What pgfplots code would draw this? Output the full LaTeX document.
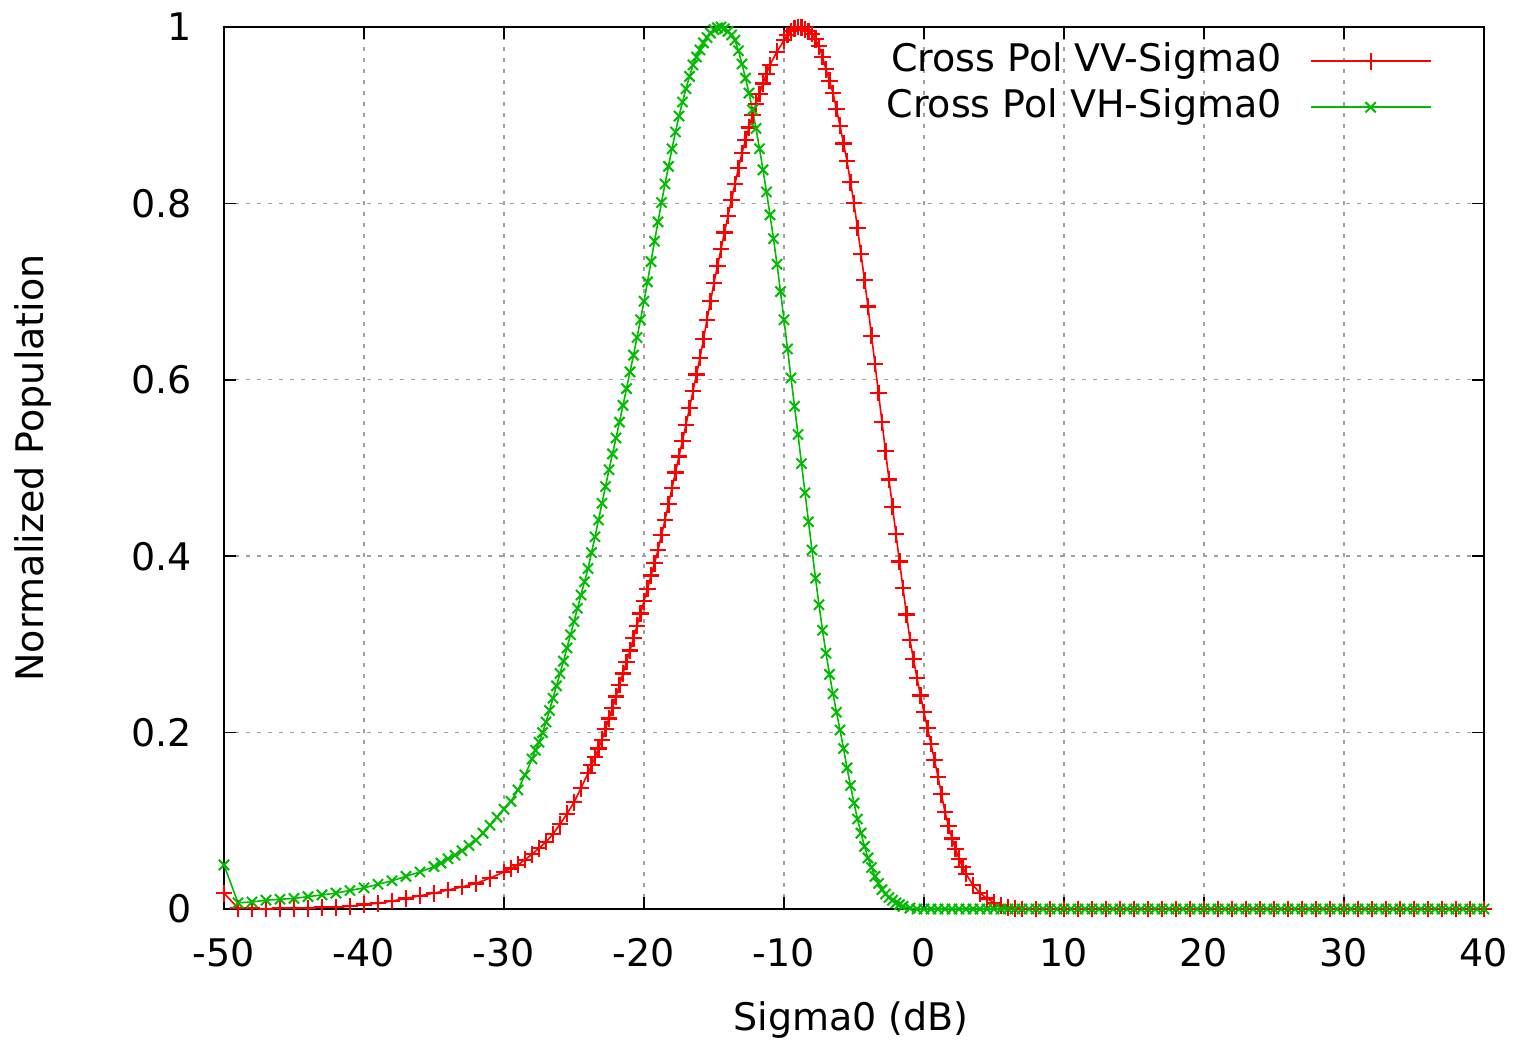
\documentclass[border=0pt]{standalone}
\usepackage{fontspec}
\setmainfont{DejaVu Sans}
\usepackage{pgfplots}
\usepackage{pgfplotstable}
\pgfplotsset{compat=1.18}
\definecolor{vvred}{HTML}{FF0000}
\definecolor{vhgreen}{HTML}{00BB00}
\definecolor{gridgray}{HTML}{A0A0A0}

% Cross Pol VV-Sigma0
\pgfplotstableread{
x y
-50 0.018
-49 0.001
-48 0.001
-47 0.000
-46 0.001
-45 0.001
-44 0.001
-43 0.002
-42 0.002
-41 0.003
-40 0.005
-39 0.0065
-38 0.009
-37 0.012
-36 0.015
-35 0.018
-34 0.0215
-33 0.025
-32 0.029
-31 0.035
-30 0.042
-29.5 0.046
-29 0.050
-28.5 0.056
-28 0.062
-27.5 0.069
-27 0.076
-26.5 0.085
-26 0.096
-25.5 0.108
-25 0.121
-24.5 0.137
-24 0.154
-23.75 0.163
-23.5 0.172
-23.25 0.182
-23 0.192
-22.75 0.204
-22.5 0.216
-22.25 0.228
-22 0.241
-21.75 0.254
-21.5 0.267
-21.25 0.280
-21 0.293
-20.75 0.307
-20.5 0.321
-20.25 0.335
-20 0.349
-19.75 0.363
-19.5 0.378
-19.25 0.392
-19 0.407
-18.75 0.424
-18.5 0.441
-18.25 0.459
-18 0.477
-17.75 0.495
-17.5 0.513
-17.25 0.531
-17 0.549
-16.75 0.568
-16.5 0.587
-16.25 0.606
-16 0.625
-15.75 0.646
-15.5 0.668
-15.25 0.689
-15 0.710
-14.75 0.729
-14.5 0.748
-14.25 0.767
-14 0.786
-13.75 0.804
-13.5 0.822
-13.25 0.840
-13 0.857
-12.75 0.872
-12.5 0.886
-12.25 0.900
-12 0.913
-11.75 0.924
-11.5 0.936
-11.25 0.947
-11 0.957
-10.5 0.972
-10 0.985
-9.75 0.991
-9.5 0.995
-9.25 0.998
-9 1.000
-8.75 0.999
-8.5 0.997
-8.25 0.995
-8 0.992
-7.75 0.986
-7.5 0.978
-7.25 0.966
-7 0.952
-6.75 0.939
-6.5 0.925
-6.25 0.907
-6 0.888
-5.75 0.868
-5.5 0.848
-5.25 0.824
-5 0.800
-4.75 0.772
-4.5 0.743
-4.25 0.713
-4 0.683
-3.75 0.650
-3.5 0.618
-3.25 0.585
-3 0.552
-2.75 0.519
-2.5 0.487
-2.25 0.456
-2 0.425
-1.75 0.394
-1.5 0.364
-1.25 0.334
-1 0.305
-0.75 0.283
-0.5 0.262
-0.25 0.242
0 0.223
0.25 0.205
0.5 0.187
0.75 0.169
1 0.150
1.25 0.130
1.5 0.110
1.75 0.094
2 0.080
2.25 0.068
2.5 0.057
2.75 0.048
3 0.040
3.5 0.027
4 0.018
4.5 0.012
5 0.007
5.5 0.004
6 0.002
6.5 0.001
7 0.000
8 0
9 0
10 0
11 0
12 0
13 0
14 0
15 0
16 0
17 0
18 0
19 0
20 0
21 0
22 0
23 0
24 0
25 0
26 0
27 0
28 0
29 0
30 0
31 0
32 0
33 0
34 0
35 0
36 0
37 0
38 0
39 0
40 0
}\vvdata

% Cross Pol VH-Sigma0
\pgfplotstableread{
x y
-50 0.050
-49 0.007
-48 0.008
-47 0.010
-46 0.011
-45 0.012
-44 0.014
-43 0.016
-42 0.018
-41 0.021
-40 0.024
-39 0.028
-38 0.032
-37 0.037
-36 0.042
-35 0.048
-34.5 0.052
-34 0.057
-33.5 0.061
-33 0.066
-32.5 0.072
-32 0.078
-31.5 0.086
-31 0.095
-30.5 0.104
-30 0.113
-29.5 0.122
-29 0.135
-28.5 0.152
-28 0.170
-27.75 0.180
-27.5 0.189
-27.25 0.200
-27 0.212
-26.75 0.225
-26.5 0.239
-26.25 0.253
-26 0.267
-25.75 0.281
-25.5 0.296
-25.25 0.311
-25 0.326
-24.75 0.341
-24.5 0.356
-24.25 0.371
-24 0.386
-23.75 0.404
-23.5 0.422
-23.25 0.441
-23 0.460
-22.75 0.479
-22.5 0.498
-22.25 0.516
-22 0.534
-21.75 0.552
-21.5 0.571
-21.25 0.590
-21 0.609
-20.75 0.628
-20.5 0.648
-20.25 0.668
-20 0.689
-19.75 0.711
-19.5 0.734
-19.25 0.757
-19 0.779
-18.75 0.801
-18.5 0.822
-18.25 0.842
-18 0.862
-17.75 0.881
-17.5 0.899
-17.25 0.915
-17 0.930
-16.75 0.944
-16.5 0.957
-16.25 0.966
-16 0.974
-15.75 0.982
-15.5 0.988
-15.25 0.993
-15 0.997
-14.75 0.999
-14.5 1.000
-14.25 0.998
-14 0.995
-13.75 0.991
-13.5 0.985
-13.25 0.973
-13 0.958
-12.75 0.942
-12.5 0.925
-12.25 0.906
-12 0.885
-11.75 0.862
-11.5 0.838
-11.25 0.813
-11 0.787
-10.75 0.760
-10.5 0.731
-10.25 0.700
-10 0.668
-9.75 0.635
-9.5 0.602
-9.25 0.570
-9 0.538
-8.75 0.505
-8.5 0.472
-8.25 0.439
-8 0.407
-7.75 0.375
-7.5 0.345
-7.25 0.316
-7 0.290
-6.75 0.266
-6.5 0.244
-6.25 0.223
-6 0.203
-5.75 0.182
-5.5 0.160
-5.25 0.140
-5 0.120
-4.75 0.102
-4.5 0.086
-4.25 0.071
-4 0.058
-3.75 0.047
-3.5 0.037
-3.25 0.029
-3 0.022
-2.75 0.017
-2.5 0.013
-2.25 0.010
-2 0.007
-1.75 0.005
-1.5 0.003
-1 0.001
-0.5 0
0 0
0.5 0
1 0
1.5 0
2 0
2.5 0
3 0
3.5 0
4 0
4.5 0
5 0
5.5 0
6 0
6.5 0
7 0
7.5 0
8 0
8.5 0
9 0
9.5 0
10 0
10.5 0
11 0
11.5 0
12 0
12.5 0
13 0
13.5 0
14 0
14.5 0
15 0
15.5 0
16 0
16.5 0
17 0
17.5 0
18 0
18.5 0
19 0
19.5 0
20 0
20.5 0
21 0
21.5 0
22 0
22.5 0
23 0
23.5 0
24 0
24.5 0
25 0
25.5 0
26 0
26.5 0
27 0
27.5 0
28 0
28.5 0
29 0
29.5 0
30 0
30.5 0
31 0
31.5 0
32 0
32.5 0
33 0
33.5 0
34 0
34.5 0
35 0
35.5 0
36 0
36.5 0
37 0
37.5 0
38 0
38.5 0
39 0
39.5 0
40 0
}\vhdata

\begin{document}
\begin{tikzpicture}
\begin{axis}[
    scale only axis,
    width=630pt, height=441pt,
    at={(0,0)}, anchor=south west,
    xmin=-50, xmax=40, ymin=0, ymax=1,
    xtick={-50,-40,-30,-20,-10,0,10,20,30,40},
    ytick={0,0.2,0.4,0.6,0.8,1},
    font=\fontsize{19}{23}\selectfont,
    /pgf/number format/assume math mode=true,
    tick align=inside,
    major tick length=6pt,
    tick style={black, line width=0.8pt},
    axis line style={black, line width=1pt},
    grid=major,
    grid style={gridgray, line width=0.7pt, dash pattern=on 2pt off 3.5pt},
    xticklabel style={anchor=center, yshift=-22pt},
    yticklabel style={anchor=east, inner sep=0pt, xshift=-16pt},
    xlabel={Sigma0 (dB)},
    ylabel={Normalized Population},
    xlabel style={at={(axis description cs:0.4976,-0.126)}, anchor=center},
    ylabel style={at={(axis description cs:-0.1516,0.5)}, anchor=center},
    clip=false,
    legend plot pos=right,
    legend cell align=right,
    legend style={draw=none, fill=none, at={(axis description cs:0.9587,0.982)},
        anchor=north east, inner sep=0pt, row sep=5pt, column sep=14pt,
        nodes={inner sep=0pt, text height=14pt, text depth=4pt}},
    legend image code/.code={\draw[line width=0.9pt, mark repeat=2, mark phase=2]
        plot coordinates {(0pt,0pt) (30pt,0pt) (60pt,0pt)};},
]
\addplot[vvred, line width=0.8pt, mark=+, mark size=4.2pt,
    mark options={line width=1.1pt}] table[x=x, y=y] {\vvdata};
\addlegendentry{Cross Pol VV-Sigma0}
\addplot[vhgreen, line width=0.8pt, mark=x, mark size=3.6pt,
    mark options={line width=1pt}] table[x=x, y=y] {\vhdata};
\addlegendentry{Cross Pol VH-Sigma0}
\end{axis}
\pgfresetboundingbox
\path[use as bounding box] (-112pt,-67pt) rectangle (646pt,454.5pt);
\end{tikzpicture}
\end{document}
